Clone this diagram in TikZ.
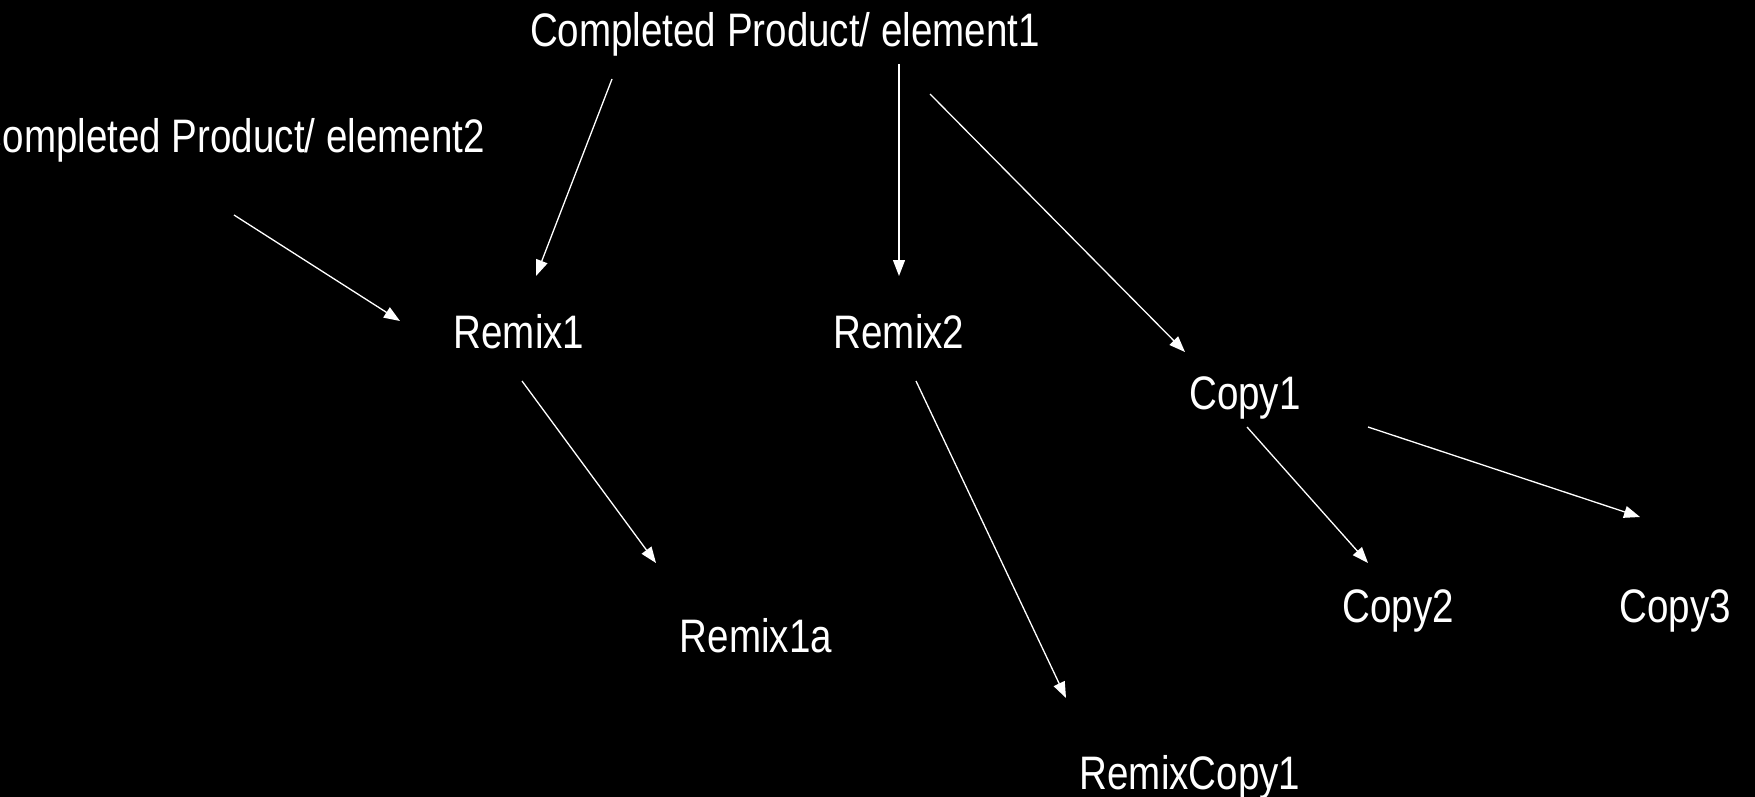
\documentclass[tikz,border=0pt]{standalone}
\usepackage{fontspec}
\setmainfont[FakeStretch=0.82]{Liberation Sans}
\usetikzlibrary{arrows.meta}
\begin{document}
\begin{tikzpicture}[x=1pt,y=-1pt,
  lbl/.style={text=white,inner sep=0pt,anchor=base,font=\fontsize{47}{56}\selectfont},
  conn/.style={draw=white,line width=1.3pt,-{Triangle[length=16pt,width=12pt]}}]
\fill[black] (0,0) rectangle (1755,797);
\useasboundingbox (0,0) rectangle (1755,797);
% nodes
\node[lbl] (el1) at (785,47) {Completed Product/ element1};
\node[lbl,anchor=base east] (el2) at (485,152) {Completed Product/ element2};
\node[lbl] (r1) at (519,348) {Remix1};
\node[lbl] (r2) at (899,348) {Remix2};
\node[lbl] (c1) at (1245,409) {Copy1};
\node[lbl] (r1a) at (756,652) {Remix1a};
\node[lbl] (rc1) at (1190,789) {RemixCopy1};
\node[lbl] (c2) at (1398,622) {Copy2};
\node[lbl] (c3) at (1675,622) {Copy3};
% connector end points
\coordinate (el2s) at (234,215);  \coordinate (r1t1) at (400,321);
\coordinate (el1s1) at (612,79);  \coordinate (r1t2) at (536,276);
\coordinate (el1s2) at (899,64);  \coordinate (r2t) at (899,276);
\coordinate (el1s3) at (930,94);  \coordinate (c1t) at (1185,352);
\coordinate (r1s) at (522,381);   \coordinate (r1at) at (656,563);
\coordinate (r2s) at (916,381);   \coordinate (rc1t) at (1066,698);
\coordinate (c1s1) at (1247,427); \coordinate (c2t) at (1368,563);
\coordinate (c1s2) at (1368,427); \coordinate (c3t) at (1640,517);
% connectors
\draw[conn] (el2s) -- (r1t1);
\draw[conn] (el1s1) -- (r1t2);
\draw[conn] (el1s2) -- (r2t);
\draw[conn] (el1s3) -- (c1t);
\draw[conn] (r1s) -- (r1at);
\draw[conn] (r2s) -- (rc1t);
\draw[conn] (c1s1) -- (c2t);
\draw[conn] (c1s2) -- (c3t);
\end{tikzpicture}
\end{document}
